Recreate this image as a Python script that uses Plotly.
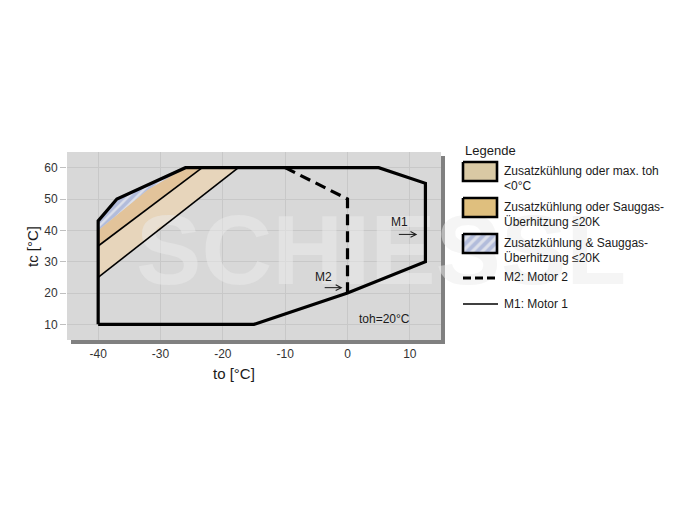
import plotly.graph_objects as go

# page body has an 8px margin, so the figure is drawn at (8, 8)
OFF = 8
W, H = 685 - OFF, 514 - OFF

# ---------------- data ----------------
x_ticks = [-40, -30, -20, -10, 0, 10]
x_tick_text = ["-40", "-30", "-20", "-10", "0", "10"]
y_ticks = [10, 20, 30, 40, 50, 60]
y_tick_text = ["10", "20", "30", "40", "50", "60"]

m1_to = [-40, -15, 0, 12.5, 12.5, 5, -26, -35, -37, -40, -40]
m1_tc = [10, 10, 20, 30, 55, 60, 60, 52, 50, 43, 10]

m2_to = [-10, 0, 0]
m2_tc = [60, 50, 20]

light_to = [-40, -17.5, -23.3, -40]
light_tc = [25, 60, 60, 35]

medium_to = [-40, -23.3, -26, -32, -40]
medium_tc = [35, 60, 60, 53, 40]

hatch_to = [-40, -32, -26, -35, -37, -40]
hatch_tc = [40, 53, 60, 52, 50, 43]

lineA_to = [-40, -17.5]
lineA_tc = [25, 60]
lineB_to = [-40, -23.3]
lineB_tc = [35, 60]

legend_title = "Legende"
legend_labels = [
    ["Zusatzkühlung oder max. toh", "<0°C"],
    ["Zusatzkühlung oder Sauggas-", "Überhitzung ≤20K"],
    ["Zusatzkühlung & Sauggas-", "Überhitzung ≤20K"],
    ["M2: Motor 2"],
    ["M1: Motor 1"],
]

FONT = "Arial, Liberation Sans, sans-serif"
LIGHT = "#e7d5bb"
MEDIUM = "#e2c39a"
LEG_LIGHT = "#d9c9a4"
LEG_MEDIUM = "#dfbf7e"
HATCH_BG = "#dde0ea"
HATCH_FG = "#8797cb"


def px(x):
    return (x - OFF) / W


def py(y):
    return 1 - (y - OFF) / H


fig = go.Figure()

# fills
fig.add_trace(go.Scatter(x=light_to, y=light_tc, fill="toself", fillcolor=LIGHT,
                         line=dict(width=0), mode="lines", hoverinfo="skip"))
fig.add_trace(go.Scatter(x=medium_to, y=medium_tc, fill="toself", fillcolor=MEDIUM,
                         line=dict(width=0), mode="lines", hoverinfo="skip"))
fig.add_trace(go.Scatter(x=hatch_to, y=hatch_tc, fill="toself",
                         fillcolor=HATCH_BG,
                         fillpattern=dict(shape="/", fgcolor=HATCH_FG, bgcolor=HATCH_BG,
                                          size=6, solidity=0.6),
                         line=dict(width=0), mode="lines", hoverinfo="skip"))

# watermark (under the lines)
fig.add_trace(go.Scatter(x=[5.4], y=[30.8], mode="text", text=["SCHIESSL"],
                         textfont=dict(family="Liberation Sans, Arial",
                                       size=98, color="rgba(236,236,236,0.5)", weight="bold"),
                         cliponaxis=False, hoverinfo="skip"))

# thin lines
fig.add_trace(go.Scatter(x=lineA_to, y=lineA_tc, mode="lines",
                         line=dict(color="black", width=1.6), hoverinfo="skip"))
fig.add_trace(go.Scatter(x=lineB_to, y=lineB_tc, mode="lines",
                         line=dict(color="black", width=1.6), hoverinfo="skip"))
# envelopes
fig.add_trace(go.Scatter(x=m1_to, y=m1_tc, mode="lines",
                         line=dict(color="black", width=3.2), hoverinfo="skip"))
fig.add_trace(go.Scatter(x=m2_to, y=m2_tc, mode="lines",
                         line=dict(color="black", width=3.2, dash="11px,6px"), hoverinfo="skip"))

# ---------------- legend (pixel axes x2/y2, page pixel coordinates) ----------------
box_x0, box_x1 = 463, 497
box_rows = [(162, 181), (198, 217), (234, 253)]
box_fills = [LEG_LIGHT, LEG_MEDIUM, None]
for (y0, y1), fc in zip(box_rows, box_fills):
    kw = dict(fill="toself", line=dict(color="black", width=2.6), mode="lines",
              xaxis="x2", yaxis="y2", hoverinfo="skip")
    if fc is None:
        kw["fillcolor"] = HATCH_BG
        kw["fillpattern"] = dict(shape="/", fgcolor=HATCH_FG, bgcolor=HATCH_BG,
                                 size=7, solidity=0.55)
    else:
        kw["fillcolor"] = fc
    fig.add_trace(go.Scatter(x=[box_x0, box_x1, box_x1, box_x0, box_x0],
                             y=[y0, y0, y1, y1, y0], **kw))

fig.add_trace(go.Scatter(x=[463, 498], y=[278, 278], mode="lines", xaxis="x2", yaxis="y2",
                         line=dict(color="black", width=3, dash="8px,4px"), hoverinfo="skip"))
fig.add_trace(go.Scatter(x=[463, 498], y=[304, 304], mode="lines", xaxis="x2", yaxis="y2",
                         line=dict(color="black", width=1.6), hoverinfo="skip"))

annotations = []
annotations.append(dict(x=463, y=150, xref="x2", yref="y2", text=legend_title,
                        showarrow=False, xanchor="left", yanchor="middle",
                        font=dict(family=FONT, size=13, color="#1a1a1a")))
text_rows = [[170.5, 185.5], [206.5, 221.5], [243, 258], [277], [303.5]]
for labels, ys in zip(legend_labels, text_rows):
    for lab, yy in zip(labels, ys):
        annotations.append(dict(x=502, y=yy, xref="x2", yref="y2", text=lab,
                                showarrow=False, xanchor="left", yanchor="middle",
                                font=dict(family=FONT, size=12, color="#1a1a1a")))

# in-plot labels
annotations += [
    dict(x=8.3, y=42.8, xref="x", yref="y", text="M1", showarrow=False,
         font=dict(family=FONT, size=12, color="#1a1a1a")),
    dict(x=11.2, y=38.7, ax=8.0, ay=38.7, xref="x", yref="y", axref="x", ayref="y",
         text="", showarrow=True, arrowhead=5, arrowsize=1.1, arrowwidth=1, arrowcolor="#1a1a1a"),
    dict(x=-3.8, y=25.2, xref="x", yref="y", text="M2", showarrow=False,
         font=dict(family=FONT, size=12, color="#1a1a1a")),
    dict(x=-0.8, y=21.7, ax=-3.9, ay=21.7, xref="x", yref="y", axref="x", ayref="y",
         text="", showarrow=True, arrowhead=5, arrowsize=1.1, arrowwidth=1, arrowcolor="#1a1a1a"),
    dict(x=6.0, y=11.8, xref="x", yref="y", text="toh=20°C", showarrow=False,
         font=dict(family=FONT, size=12, color="#1a1a1a")),
    dict(x=px(234), y=py(373), xref="paper", yref="paper", text="to [°C]", showarrow=False,
         xanchor="center", yanchor="middle",
         font=dict(family=FONT, size=15, color="#1a1a1a")),
    dict(x=px(33), y=py(247), xref="paper", yref="paper", text="tc [°C]", showarrow=False,
         xanchor="center", yanchor="middle",
         textangle=-90, font=dict(family=FONT, size=15, color="#1a1a1a")),
]

# plot area background with shadow (paper, below everything)
shapes = [
    dict(type="rect", xref="paper", yref="paper", layer="below",
         x0=px(71), x1=px(445), y0=py(344), y1=py(156),
         fillcolor="#808080", line=dict(width=0)),
    dict(type="rect", xref="paper", yref="paper", layer="below",
         x0=px(67), x1=px(441), y0=py(340), y1=py(152),
         fillcolor="#d8d8d8", line=dict(width=0)),
]

fig.update_layout(
    width=W, height=H,
    margin=dict(l=0, r=0, t=0, b=0),
    paper_bgcolor="white",
    plot_bgcolor="rgba(0,0,0,0)",
    showlegend=False,
    font=dict(family=FONT, size=12, color="#333333"),
    xaxis=dict(domain=[px(67), px(441)], range=[-45, 15], tickvals=x_ticks, ticktext=x_tick_text,
               showgrid=True, gridcolor="#c8c8c8", gridwidth=1, zeroline=False,
               showline=False, ticks="", ticklabelstandoff=5,
               tickfont=dict(family=FONT, size=12, color="#333333"), anchor="y", fixedrange=True),
    yaxis=dict(domain=[py(340), py(152)], range=[5, 65], tickvals=y_ticks, ticktext=y_tick_text,
               showgrid=True, gridcolor="#c8c8c8", gridwidth=1, zeroline=False,
               showline=False, ticks="outside", ticklen=6, tickcolor="#c0c0c0",
               tickfont=dict(family=FONT, size=12, color="#333333"), anchor="x", fixedrange=True),
    xaxis2=dict(domain=[0, 1], range=[OFF, OFF + W], visible=False, anchor="y2", fixedrange=True),
    yaxis2=dict(domain=[0, 1], range=[OFF + H, OFF], visible=False, anchor="x2", fixedrange=True),
    annotations=annotations,
    shapes=shapes,
)

fig.write_html("out.html")
